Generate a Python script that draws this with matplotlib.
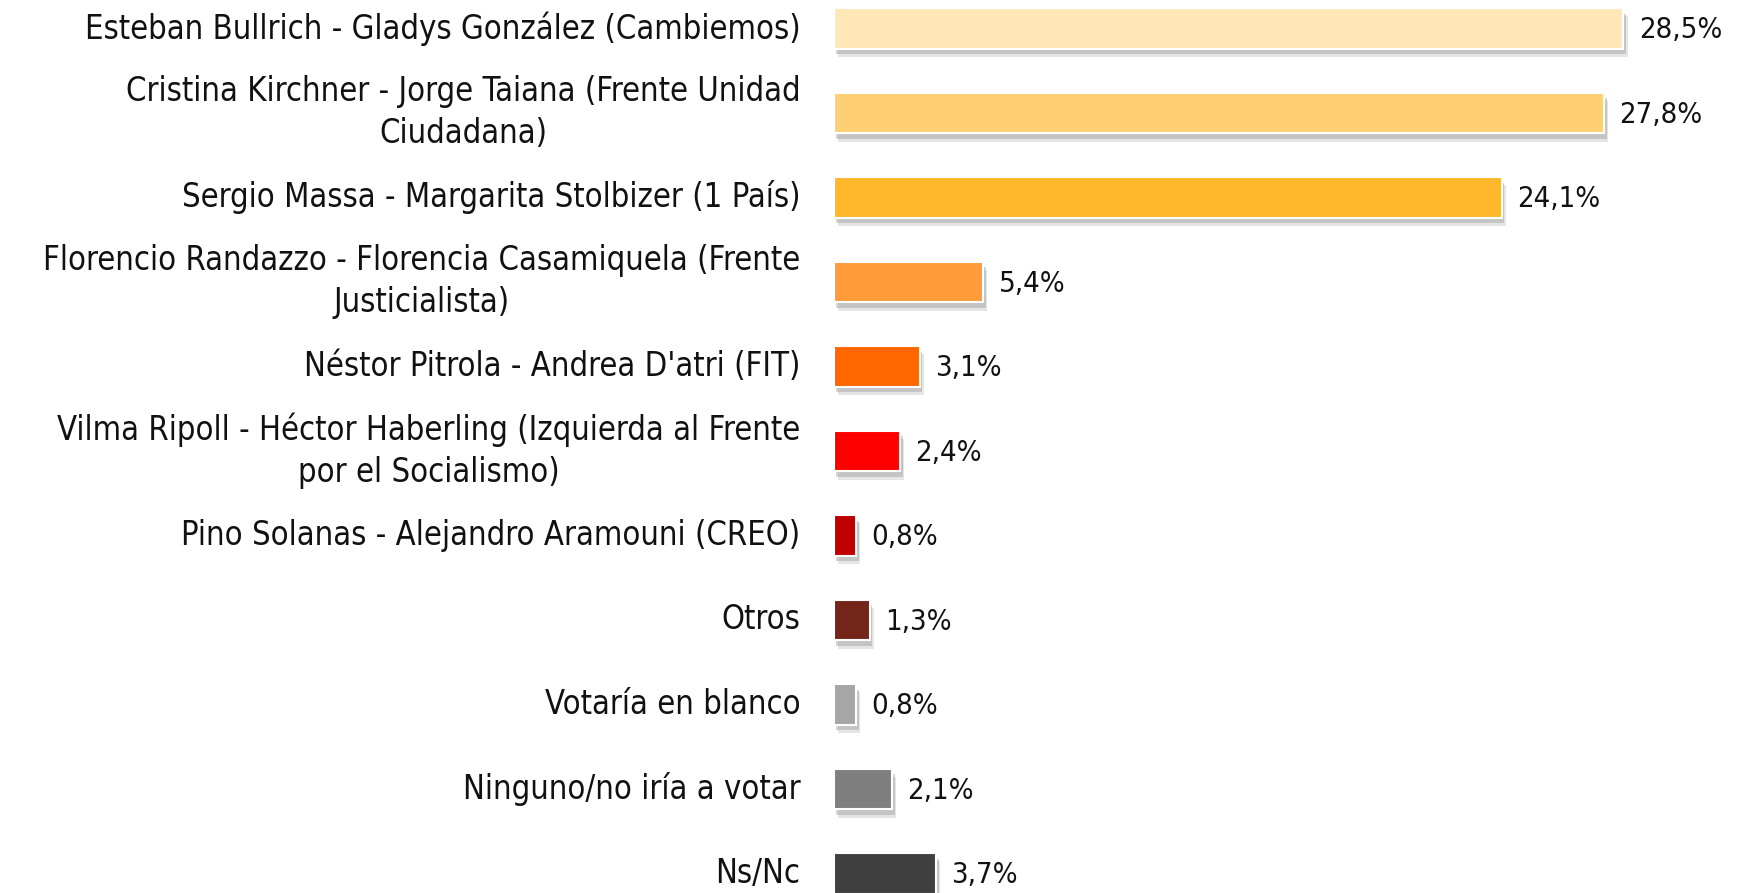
import matplotlib
matplotlib.use('Agg')
import matplotlib.pyplot as plt
import matplotlib.patheffects as pe

# data
categories = [
    'Esteban Bullrich - Gladys González (Cambiemos)',
    'Cristina Kirchner - Jorge Taiana (Frente Unidad\nCiudadana)',
    'Sergio Massa - Margarita Stolbizer (1 País)',
    'Florencio Randazzo - Florencia Casamiquela (Frente\nJusticialista)',
    "Néstor Pitrola - Andrea D'atri (FIT)",
    'Vilma Ripoll - Héctor Haberling (Izquierda al Frente\npor el Socialismo)',
    'Pino Solanas - Alejandro Aramouni (CREO)',
    'Otros',
    'Votaría en blanco',
    'Ninguno/no iría a votar',
    'Ns/Nc',
]
values = [28.5, 27.8, 24.1, 5.4, 3.1, 2.4, 0.8, 1.3, 0.8, 2.1, 3.7]
colors = ['#FFE7B8', '#FFD073', '#FFB72B', '#FF9B38', '#FF6600', '#FF0000',
          '#C00000', '#742519', '#A6A6A6', '#7F7F7F', '#404040']

plt.rcParams['font.family'] = ['DejaVu Sans']

fig = plt.figure(figsize=(17.44, 8.93), dpi=100)
ax = fig.add_axes([0.478, 0.0, 0.522, 1.0])

pos = list(range(len(values)))
bars = ax.barh(pos, values, height=0.48, color=colors, edgecolor='white', linewidth=1.5)
# soft drop shadow under each bar
shadow = [pe.SimplePatchShadow(offset=(3, -6), shadow_rgbFace='#999999', alpha=0.25),
          pe.SimplePatchShadow(offset=(2, -4), shadow_rgbFace='#888888', alpha=0.35),
          pe.Normal()]
for b in bars:
    b.set_path_effects(shadow)

for p, v in zip(pos, values):
    ax.text(v + 0.55, p + 0.02, f'{v:.1f}%'.replace('.', ','), va='center', ha='left',
            fontsize=21, fontstretch='condensed', color='#111111')

ax.set_xlim(0, 32.85)
ax.set_ylim(10.232, -0.336)
ax.set_yticks(pos)
ax.set_yticklabels(categories, fontsize=23.5, fontstretch='condensed', color='#111111')
for t in ax.get_yticklabels():
    t.set_multialignment('center')
    t.set_linespacing(1.35)
    t.set_verticalalignment('center')
ax.tick_params(axis='y', length=0, pad=24)
ax.set_xticks([])
for s in ax.spines.values():
    s.set_visible(False)

fig.savefig('out.png', dpi=100)
